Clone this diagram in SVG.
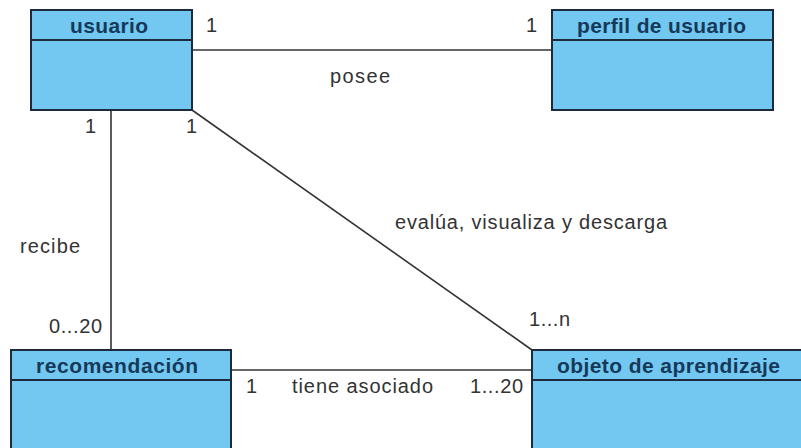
<svg xmlns="http://www.w3.org/2000/svg" width="801" height="448" viewBox="0 0 801 448">
  <style>
    .box { fill: #72c8f0; stroke: #1c2a3c; stroke-width: 2; }
    .div { stroke: #1c2a3c; stroke-width: 2; }
    .title { font-family: "Liberation Sans", Arial, sans-serif; font-weight: bold; font-size: 21px; fill: #16395a; }
    .lbl { font-family: "Liberation Sans", Arial, sans-serif; font-size: 20px; fill: #333333; }
    .conn { stroke: #333333; stroke-width: 1.6; fill: none; }
  </style>
  <rect width="801" height="448" fill="#ffffff"/>

  <!-- associations -->
  <g id="connectors">
    <line class="conn" x1="192" y1="50" x2="552" y2="50"/>
    <line class="conn" x1="111" y1="110" x2="111" y2="350"/>
    <line class="conn" x1="192" y1="110" x2="532" y2="350"/>
    <line class="conn" x1="231" y1="370" x2="532" y2="370"/>
    <text class="lbl" x="206" y="32">1</text>
    <text class="lbl" x="526" y="32">1</text>
    <text class="lbl" x="330" y="83" textLength="60" lengthAdjust="spacing">posee</text>
    <text class="lbl" x="85" y="133">1</text>
    <text class="lbl" x="186" y="133">1</text>
    <text class="lbl" x="395" y="229" textLength="272" lengthAdjust="spacing">evalúa, visualiza y descarga</text>
    <text class="lbl" x="20" y="253" textLength="60" lengthAdjust="spacing">recibe</text>
    <text class="lbl" x="49" y="333" textLength="53" lengthAdjust="spacing">0...20</text>
    <text class="lbl" x="529" y="326" textLength="41" lengthAdjust="spacing">1...n</text>
    <text class="lbl" x="246" y="393">1</text>
    <text class="lbl" x="292" y="393" textLength="141" lengthAdjust="spacing">tiene asociado</text>
    <text class="lbl" x="470" y="393" textLength="53" lengthAdjust="spacing">1...20</text>
  </g>

  <g id="usuario">
    <rect class="box" x="31" y="10" width="161" height="100"/>
    <line class="div" x1="31" y1="40" x2="192" y2="40"/>
    <text class="title" x="70" y="33" textLength="78" lengthAdjust="spacing">usuario</text>
  </g>

  <g id="perfil-de-usuario">
    <rect class="box" x="552" y="10" width="221" height="100"/>
    <line class="div" x1="552" y1="40" x2="773" y2="40"/>
    <text class="title" x="577" y="33" textLength="169" lengthAdjust="spacing">perfil de usuario</text>
  </g>

  <g id="recomendacion">
    <rect class="box" x="11" y="350" width="220" height="110"/>
    <line class="div" x1="11" y1="380" x2="231" y2="380"/>
    <text class="title" x="36" y="373" textLength="162" lengthAdjust="spacing">recomendación</text>
  </g>

  <g id="objeto-de-aprendizaje">
    <rect class="box" x="532" y="350" width="280" height="110"/>
    <line class="div" x1="532" y1="380" x2="812" y2="380"/>
    <text class="title" x="557" y="373" textLength="223" lengthAdjust="spacing">objeto de aprendizaje</text>
  </g>
</svg>
